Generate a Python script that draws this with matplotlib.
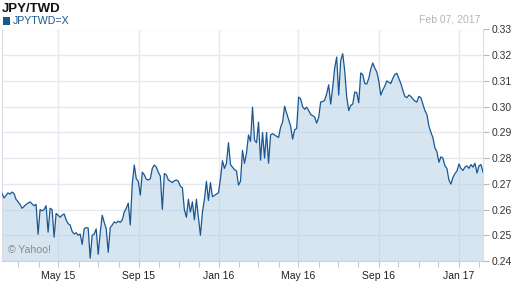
import numpy as np
import pandas as pd
import matplotlib
matplotlib.use("Agg")
import matplotlib.pyplot as plt
import matplotlib.dates as mdates
from matplotlib.patches import Rectangle

plt.rcParams['font.family'] = ['Liberation Sans', 'DejaVu Sans']

# JPY/TWD closing rate (roughly every 3 days)
tasas = [
    0.2663, 0.2645, 0.2655, 0.2665, 0.2660, 0.2668, 0.2662, 0.2640, 0.2630, 0.2620,
    0.2605, 0.2612, 0.2620, 0.2625, 0.2630, 0.2622, 0.2615, 0.2620, 0.2504, 0.2600,
    0.2595, 0.2600, 0.2615, 0.2512, 0.2605, 0.2600, 0.2493, 0.2585, 0.2578, 0.2570,
    0.2578, 0.2583, 0.2560, 0.2545, 0.2540, 0.2515, 0.2505, 0.2510, 0.2500, 0.2505,
    0.2465, 0.2525, 0.2530, 0.2528, 0.2411, 0.2500, 0.2505, 0.2525, 0.2426, 0.2510,
    0.2578, 0.2550, 0.2525, 0.2434, 0.2530, 0.2540, 0.2552, 0.2548, 0.2555, 0.2550,
    0.2560, 0.2590, 0.2605, 0.2625, 0.2540, 0.2700, 0.2773, 0.2720, 0.2710, 0.2656,
    0.2745, 0.2735, 0.2718, 0.2715, 0.2720, 0.2760, 0.2773, 0.2765, 0.2745, 0.2730,
    0.2601, 0.2740, 0.2735, 0.2715, 0.2710, 0.2705, 0.2712, 0.2715, 0.2710, 0.2690,
    0.2685, 0.2600, 0.2570, 0.2640, 0.2590, 0.2630, 0.2560, 0.2640, 0.2570, 0.2500,
    0.2590, 0.2640, 0.2710, 0.2635, 0.2705, 0.2650, 0.2655, 0.2660, 0.2665, 0.2720,
    0.2790, 0.2760, 0.2780, 0.2860, 0.2775, 0.2765, 0.2755, 0.2750, 0.2695, 0.2710,
    0.2830, 0.2780, 0.2820, 0.2890, 0.2865, 0.2998, 0.2870, 0.2860, 0.2940, 0.2792,
    0.2900, 0.2800, 0.2900, 0.2780, 0.2890, 0.2895, 0.2890, 0.2885, 0.2880, 0.2920,
    0.2940, 0.3002, 0.2975, 0.2950, 0.2925, 0.2874, 0.2910, 0.2915, 0.3037, 0.3030,
    0.3000, 0.2990, 0.2998, 0.2985, 0.2970, 0.2965, 0.2960, 0.2936, 0.2958, 0.3018,
    0.3020, 0.3025, 0.3050, 0.3085, 0.3010, 0.3075, 0.3150, 0.3193, 0.3045, 0.3180,
    0.3206, 0.3140, 0.3037, 0.2985, 0.3005, 0.3010, 0.3057, 0.3055, 0.3015, 0.3131,
    0.3125, 0.3090, 0.3088, 0.3110, 0.3146, 0.3170, 0.3150, 0.3135, 0.3100, 0.3045,
    0.3065, 0.3080, 0.3100, 0.3095, 0.3090, 0.3110, 0.3125, 0.3130, 0.3110, 0.3090,
    0.3064, 0.3040, 0.3035, 0.3045, 0.3040, 0.3030, 0.3022, 0.3018, 0.3040, 0.3035,
    0.3010, 0.2985, 0.2970, 0.2925, 0.2900, 0.2880, 0.2840, 0.2825, 0.2784, 0.2805,
    0.2800, 0.2770, 0.2760, 0.2715, 0.2699, 0.2725, 0.2740, 0.2750, 0.2777, 0.2760,
    0.2752, 0.2765, 0.2770, 0.2760, 0.2775, 0.2765, 0.2780, 0.2742, 0.2770, 0.2775,
    0.2745,
]
fechas = pd.date_range('2015-02-04', '2017-02-07', periods=len(tasas))

titulo = 'JPY/TWD'
simbolo = 'JPYTWD=X'
fecha_txt = 'Feb 07, 2017'
yticks = [0.24, 0.25, 0.26, 0.27, 0.28, 0.29, 0.30, 0.31, 0.32, 0.33]

azul = '#1a5792'
gris_grid = '#e6e8f0'

fig = plt.figure(figsize=(5.12, 2.88), dpi=100)
ax = fig.add_axes([2 / 512, 1 - 261 / 288, 481 / 512, (261 - 29.5) / 288])

ax.fill_between(fechas, tasas, 0.2, color='#aecde3', alpha=0.5, lw=0, zorder=2)
ax.plot(fechas, tasas, color=azul, lw=0.9, zorder=3)

ax.set_xlim(fechas[0], fechas[-1])
ax.set_ylim(0.24, 0.33)
ax.set_yticks(yticks)
ax.yaxis.set_major_formatter(plt.FuncFormatter(lambda v, p: f'{v:.2f}'))
ax.yaxis.tick_right()

ax.xaxis.set_major_locator(mdates.MonthLocator(bymonth=[1, 5, 9]))
ax.xaxis.set_minor_locator(mdates.MonthLocator())
ax.xaxis.set_major_formatter(mdates.DateFormatter('%b %y'))

ax.grid(True, which='major', color=gris_grid, lw=1, zorder=1)
ax.set_axisbelow(True)

ax.tick_params(axis='y', which='major', length=4, width=0.8, color='#b8b8b8',
               labelsize=7.5, labelcolor='#333333', pad=2)
ax.tick_params(axis='x', which='both', length=4, width=0.8, color='#c8c8d0',
               labelsize=7.5, labelcolor='#222222', pad=3)

ax.spines['top'].set_visible(False)
ax.spines['left'].set_color('#dcdce4')
ax.spines['right'].set_color('#dcdce4')
ax.spines['bottom'].set_color('#c8d4e0')
for s in ['left', 'right', 'bottom']:
    ax.spines[s].set_linewidth(0.8)

ax.text(0.012, 0.035, '\u00a9 Yahoo!', transform=ax.transAxes, fontsize=7.6,
        color='#8a8a8a', zorder=4)

fig.text(2 / 512, 1 - 11.5 / 288, titulo, fontsize=9.5, fontweight='bold',
         color='#111111', va='baseline')
fig.patches.append(Rectangle((3 / 512, 1 - 24.5 / 288), 7 / 512, 7.5 / 288,
                             transform=fig.transFigure, color=azul, lw=0))
fig.text(13 / 512, 1 - 24 / 288, simbolo, fontsize=7.7, color=azul, va='baseline')
fig.text(480 / 512, 1 - 23 / 288, fecha_txt, fontsize=7.5, color='#b4b4b4',
         va='baseline', ha='right')

fig.savefig('out.png', dpi=100)
